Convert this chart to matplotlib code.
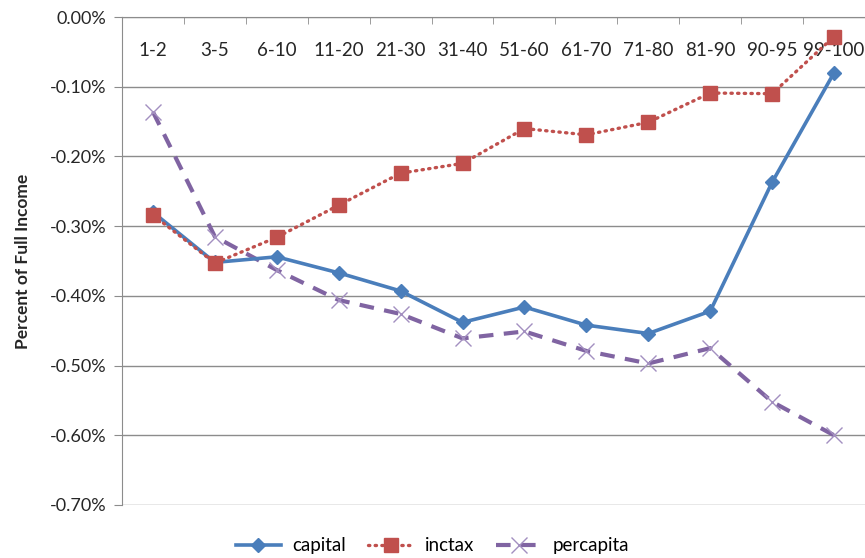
import matplotlib.pyplot as plt
from matplotlib.ticker import FuncFormatter
import numpy as np

plt.rcParams["font.family"] = ["Lato", "DejaVu Sans"]

groups = ["1-2", "3-5", "6-10", "11-20", "21-30", "31-40", "51-60",
          "61-70", "71-80", "81-90", "90-95", "99-100"]
capital = [-0.28, -0.352, -0.344, -0.367, -0.393, -0.438, -0.416,
           -0.442, -0.454, -0.422, -0.237, -0.080]
inctax = [-0.284, -0.353, -0.316, -0.270, -0.224, -0.210, -0.160,
          -0.169, -0.151, -0.109, -0.110, -0.028]
percapita = [-0.136, -0.315, -0.363, -0.406, -0.426, -0.461, -0.451,
             -0.479, -0.497, -0.475, -0.552, -0.600]

grid_c = "#8c8c8c"
text_c = "#262626"


def pct(v, pos):
    v = round(v, 4)
    return f"{v:.2f}%" if v != 0 else "0.00%"


fig = plt.figure(figsize=(8.65, 5.58), dpi=100)
ax = fig.add_axes([0.141, 0.095, 0.859, 0.8745])

x = np.arange(len(groups))
ax.plot(x, capital, color="#4a7ebb", lw=2.6, marker="D", ms=7,
        label="capital", zorder=3)
ax.plot(x, inctax, color="#c0504d", lw=2.4, ls=(0, (0.4, 1.6)),
        dash_capstyle="round", marker="s", ms=10, label="inctax", zorder=4)
ax.plot(x, percapita, color="#8064a2", lw=3, ls=(0, (3.5, 2.5)),
        marker="x", ms=11, mew=1, mec="#a38fc0", label="percapita", zorder=2)

ax.set_xlim(-0.5, len(groups) - 0.5)
ax.set_ylim(-0.7, 0)
ax.set_yticks(np.arange(-0.7, 0.001, 0.1))
ax.yaxis.set_major_formatter(FuncFormatter(pct))
ax.grid(axis="y", color=grid_c, lw=1)
ax.set_axisbelow(True)

ax.set_xticks(x, labels=groups)
ax.set_xticks(x[:-1] + 0.5, minor=True)
ax.tick_params(axis="x", which="major", bottom=False, labelbottom=False,
               top=False, labeltop=True, length=0, pad=-30,
               labelsize=13.5, labelcolor=text_c)
ax.tick_params(axis="x", which="minor", bottom=False, top=True,
               direction="in", length=5, color=grid_c)
ax.tick_params(axis="y", length=6, color=grid_c, labelsize=13,
               labelcolor=text_c, pad=5)

for s in ["right", "bottom"]:
    ax.spines[s].set_visible(False)
for s in ["left", "top"]:
    ax.spines[s].set_color(grid_c)

ax.set_ylabel("Percent of Full Income", fontsize=12.5, fontweight="bold",
              color=text_c, labelpad=14)

fig.legend(loc="center", bbox_to_anchor=(0.5, 0.022), ncol=3, frameon=False,
           fontsize=13.5, handlelength=2.4, handletextpad=0.6,
           columnspacing=1.2)

fig.savefig("out.png", dpi=100)
